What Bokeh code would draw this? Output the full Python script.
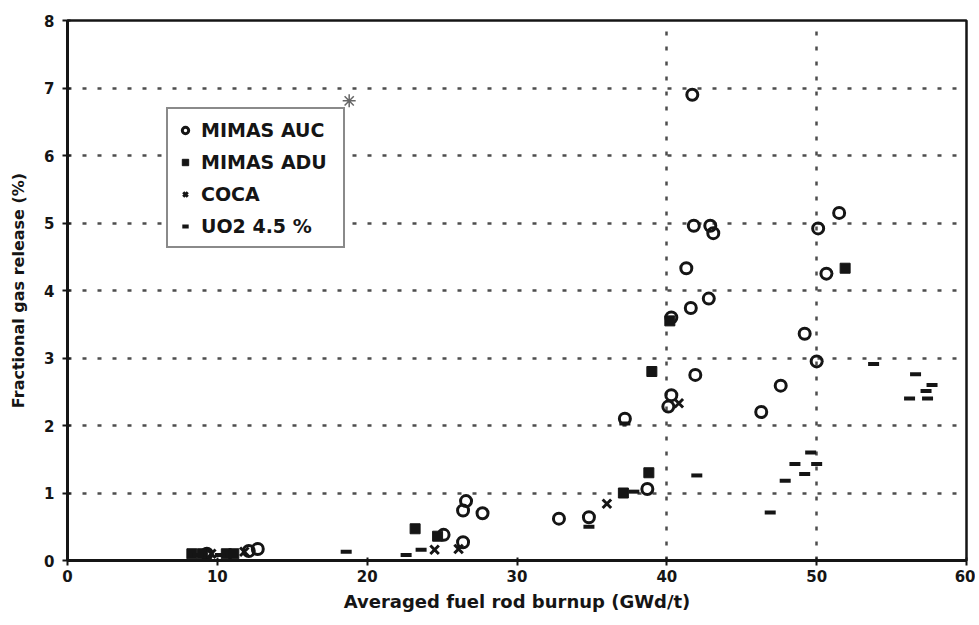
from bokeh.plotting import figure
from bokeh.models import FixedTicker, Legend, LegendItem, Range1d
from bokeh.embed import file_html
from bokeh.resources import INLINE

# ---- data ----
auc_x = [9.3, 12.1, 12.7, 25.1, 26.4, 26.6, 26.4, 27.7, 32.8, 34.8, 37.2, 38.7,
         40.1, 40.3, 40.3, 41.6, 42.8, 41.3, 41.8, 42.9, 43.1, 41.7, 41.9, 46.3,
         47.6, 49.2, 50.0, 50.1, 50.65, 51.5]
auc_y = [0.10, 0.14, 0.17, 0.38, 0.27, 0.88, 0.74, 0.70, 0.62, 0.64, 2.10, 1.06,
         2.28, 2.45, 3.60, 3.74, 3.88, 4.33, 4.96, 4.96, 4.85, 6.90, 2.75, 2.20,
         2.59, 3.36, 2.95, 4.92, 4.25, 5.15]

adu_x = [8.3, 9.0, 10.6, 11.1, 23.2, 24.7, 37.1, 38.8, 39.0, 40.2, 51.9]
adu_y = [0.10, 0.10, 0.10, 0.10, 0.47, 0.36, 1.00, 1.30, 2.80, 3.55, 4.33]

coca_x = [9.6, 11.8, 24.5, 26.1, 36.0, 40.8]
coca_y = [0.10, 0.13, 0.16, 0.17, 0.84, 2.33]

uo2_x = [8.7, 10.2, 18.6, 22.6, 23.6, 34.8, 37.2, 37.8, 42.0, 46.9, 47.9, 48.55,
         49.2, 49.6, 50.0, 53.8, 56.2, 56.6, 57.3, 57.4, 57.7]
uo2_y = [0.08, 0.08, 0.13, 0.08, 0.16, 0.50, 2.03, 1.02, 1.26, 0.71, 1.18, 1.43,
         1.28, 1.60, 1.43, 2.91, 2.40, 2.76, 2.51, 2.40, 2.60]

star_x = [18.8]
star_y = [6.81]

x_ticks = [0, 10, 20, 30, 40, 50, 60]
y_ticks = [0, 1, 2, 3, 4, 5, 6, 7, 8]
x_grid = [40, 50]
y_grid = [1, 2, 3, 4, 5, 6, 7]

series_labels = ["MIMAS AUC", "MIMAS ADU", "COCA", "UO2 4.5 %"]
x_title = "Averaged fuel rod burnup (GWd/t)"
y_title = "Fractional gas release (%)"

FONT = "DejaVu Sans"
INK = "#151515"

p = figure(width=975, height=622,
           x_range=Range1d(0, 60), y_range=Range1d(0, 8),
           output_backend="svg", toolbar_location=None,
           min_border_left=67, min_border_right=9,
           min_border_top=20, min_border_bottom=62)

p.background_fill_color = "white"
p.border_fill_color = "white"
p.outline_line_color = INK
p.outline_line_width = 2.5

# grids
p.xgrid.ticker = FixedTicker(ticks=x_grid)
p.ygrid.ticker = FixedTicker(ticks=y_grid)
for g in (p.xgrid, p.ygrid):
    g.grid_line_color = "#3a3a3a"
    g.grid_line_width = 2.5
    g.grid_line_dash = "4 11"
    g.grid_line_alpha = 0.9

# axes
p.xaxis.ticker = FixedTicker(ticks=x_ticks)
p.yaxis.ticker = FixedTicker(ticks=y_ticks)
for ax in (p.xaxis, p.yaxis):
    ax.axis_line_color = INK
    ax.axis_line_width = 3
    ax.major_tick_line_color = INK
    ax.major_tick_line_width = 2
    ax.major_tick_out = 5
    ax.major_tick_in = 3
    ax.minor_tick_line_color = None
    ax.major_label_text_font = FONT
    ax.major_label_text_font_style = "bold"
    ax.major_label_text_font_size = "15px"
    ax.major_label_text_color = INK
    ax.axis_label_text_font = FONT
    ax.axis_label_text_font_style = "bold"
    ax.axis_label_text_color = INK

p.xaxis.axis_label = x_title
p.xaxis.axis_label_text_font_size = "18px"
p.xaxis.major_label_standoff = 4
p.xaxis.axis_label_standoff = 6
p.yaxis.axis_label = y_title
p.yaxis.axis_label_text_font_size = "16px"
p.yaxis.major_label_standoff = 8
p.yaxis.axis_label_standoff = 13

# data marks
r_auc = p.scatter(auc_x, auc_y, marker="circle", size=11, fill_color=None,
                  line_color=INK, line_width=3)
r_adu = p.scatter(adu_x, adu_y, marker="square", size=10, fill_color=INK,
                  line_color=INK, line_width=1)
r_coca = p.scatter(coca_x, coca_y, marker="x", size=12, line_color=INK,
                   line_width=3)
r_uo2 = p.scatter(uo2_x, uo2_y, marker="dash", size=11, line_color=INK,
                  line_width=4)
p.scatter(star_x, star_y, marker="asterisk", size=13, line_color="#666666",
          line_width=1.5)

legend = Legend(
    items=[LegendItem(label=series_labels[0], renderers=[r_auc]),
           LegendItem(label=series_labels[1], renderers=[r_adu]),
           LegendItem(label=series_labels[2], renderers=[r_coca]),
           LegendItem(label=series_labels[3], renderers=[r_uo2])],
    location=(99, 312),
    orientation="vertical",
)
legend.label_text_font = FONT
legend.label_text_font_style = "bold"
legend.label_text_font_size = "19px"
legend.label_text_color = INK
legend.border_line_color = INK
legend.border_line_width = 2
legend.background_fill_color = "white"
legend.background_fill_alpha = 1
legend.padding = 9
legend.spacing = 9
legend.margin = 0
legend.label_height = 23
legend.label_width = 133
legend.glyph_height = 16
legend.glyph_width = 16
legend.label_standoff = 8
p.add_layout(legend)

open("out.html", "w").write(file_html(p, INLINE))
